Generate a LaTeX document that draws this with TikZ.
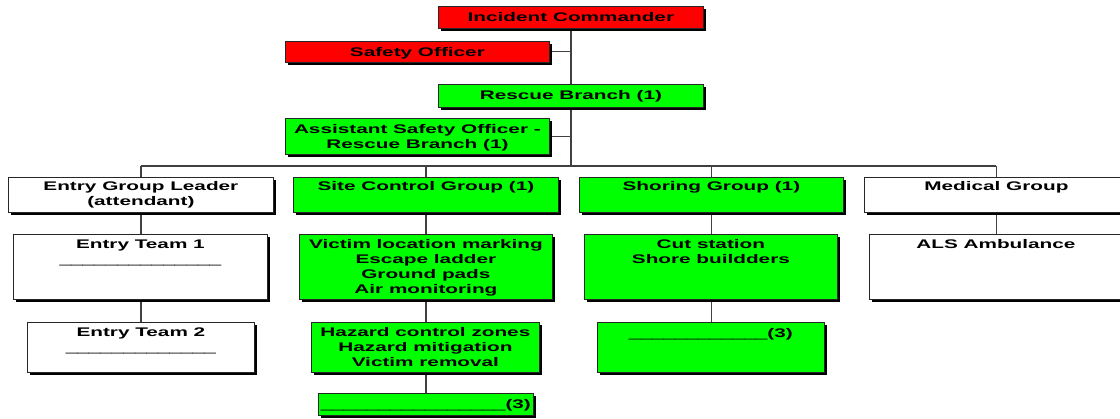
\documentclass[tikz,border=0pt]{standalone}
\usepackage{fontspec}
\setmainfont{Liberation Sans}[FakeStretch=1.66]
\usetikzlibrary{shadows}
\pgfdeclarelayer{background}
\pgfsetlayers{background,main}
% box content: width, height, first baseline depth, text
\newcommand\orgtext[4]{\parbox[t][#2][t]{#1}{\centering\rule{0pt}{#3}#4}}
\begin{document}
\begin{tikzpicture}[x=1pt,y=-1pt,
  orgbox/.style={draw=black!85, line width=0.8pt, inner sep=0pt, anchor=north west,
    drop shadow={shadow xshift=3pt, shadow yshift=-3pt, fill=black, opacity=1},
    font=\fontsize{12.5}{15}\selectfont\bfseries},
  redbox/.style={orgbox, fill=red},
  greenbox/.style={orgbox, fill=green},
  whitebox/.style={orgbox, fill=white},
  link/.style={draw=black!75, line width=1.2pt}]
\useasboundingbox (0,0) rectangle (1120,419);

% command staff
\node[redbox] (ic) at (438,6) {\orgtext{265pt}{22pt}{15.5pt}{Incident Commander}};
\node[redbox] (so) at (285,41) {\orgtext{264pt}{21pt}{15pt}{Safety Officer}};
\node[greenbox] (rb) at (438,84) {\orgtext{265pt}{23pt}{15.5pt}{Rescue Branch (1)}};
\node[greenbox] (aso) at (285,118) {\orgtext{264pt}{36pt}{15.5pt}{Assistant Safety Officer -\\Rescue Branch (1)}};

% groups
\node[whitebox] (egl) at (8,177) {\orgtext{265pt}{35pt}{13.5pt}{Entry Group Leader\\(attendant)}};
\node[greenbox] (scg) at (293,177) {\orgtext{265pt}{35pt}{13.5pt}{Site Control Group (1)}};
\node[greenbox] (shg) at (579,177) {\orgtext{264pt}{35pt}{13.5pt}{Shoring Group (1)}};
\node[whitebox] (med) at (864,177) {\orgtext{264pt}{35pt}{13.5pt}{Medical Group}};

% first level of units
\node[whitebox] (et1) at (13,234) {\orgtext{254pt}{65pt}{14.5pt}{Entry Team 1\\{\mdseries\_\_\_\_\_\_\_\_\_\_\_\_\_\_}}};
\node[greenbox] (vic) at (299,234) {\orgtext{253pt}{65pt}{14.5pt}{Victim location marking\\Escape ladder\\Ground pads\\Air monitoring}};
\node[greenbox] (cut) at (584,234) {\orgtext{253pt}{65pt}{14.5pt}{Cut station\\Shore buildders}};
\node[whitebox] (als) at (869,234) {\orgtext{253pt}{65pt}{14.5pt}{ALS Ambulance}};

% second level of units
\node[whitebox] (et2) at (27,322) {\orgtext{227pt}{50pt}{14.5pt}{Entry Team 2\\{\mdseries\_\_\_\_\_\_\_\_\_\_\_\_\_}}};
\node[greenbox] (haz) at (311,322) {\orgtext{228pt}{50pt}{14.5pt}{Hazard control zones\\Hazard mitigation\\Victim removal}};
\node[greenbox] (sh3) at (597,322) {\orgtext{227pt}{50pt}{15.5pt}{{\mdseries\_\_\_\_\_\_\_\_\_\_\_\_}(3)}};
\node[greenbox] (sc3) at (318,393) {\orgtext{215pt}{22pt}{15.5pt}{{\mdseries\_\_\_\_\_\_\_\_\_\_\_\_\_\_\_\_}(3)}};

% connectors
\coordinate (bus) at (0,166);
\begin{pgfonlayer}{background}
\draw[link] (ic.south) -- (ic.south |- bus);
\draw[link] (so.east) -- (so.east -| ic.south);
\draw[link] (aso.east) -- (aso.east -| ic.south);
\draw[link] (egl.north |- bus) -- (med.north |- bus);
\draw[link] (egl.north |- bus) -- (egl.north);
\draw[link] (scg.north |- bus) -- (scg.north);
\draw[link] (shg.north |- bus) -- (shg.north);
\draw[link] (med.north |- bus) -- (med.north);
\draw[link] (egl.south) -- (egl.south |- et2.north);
\draw[link] (scg.south) -- (scg.south |- sc3.north);
\draw[link] (shg.south) -- (shg.south |- sh3.north);
\draw[link] (med.south) -- (med.south |- als.north);
\end{pgfonlayer}
\end{tikzpicture}
\end{document}
